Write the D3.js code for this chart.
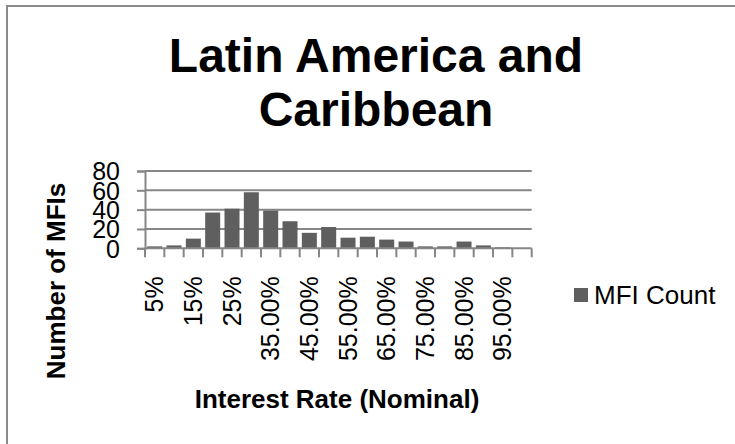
<!DOCTYPE html>
<html>
<head>
<meta charset="utf-8">
<script src="https://cdn.jsdelivr.net/npm/d3@7"></script>
<style>
  html, body { margin: 0; padding: 0; background: #fff; }
  svg { display: block; }
  text { font-family: "Liberation Sans", Arial, sans-serif; fill: #000; }
</style>
</head>
<body>
<svg id="chart" width="735" height="444"></svg>
<script>
// Interest-rate buckets (nominal) and number of MFIs in each
const categories = ["5%", "10%", "15%", "20%", "25%", "30%", "35.00%", "40.00%", "45.00%", "50.00%",
                    "55.00%", "60.00%", "65.00%", "70.00%", "75.00%", "80.00%", "85.00%", "90.00%", "95.00%", "100.00%"];
const mfiCount = [2, 3, 10, 37, 41, 58, 39, 28, 16, 22, 11, 12, 9, 7, 2, 2, 7, 3, 1, 0];
const yTicks = [0, 20, 40, 60, 80];
const seriesName = "MFI Count";
const titleLines = ["Latin America and", "Caribbean"];
const xTitle = "Interest Rate (Nominal)";
const yTitle = "Number of MFIs";

const svg = d3.select("#chart");
const gray = "#868686";
const barColor = "#5f5f5f";

// chart frame
svg.append("rect")
  .attr("x", 7).attr("y", 6)
  .attr("width", 760).attr("height", 460)
  .attr("fill", "#fff").attr("stroke", "#8a8a8a").attr("stroke-width", 2);

// title
svg.append("g").selectAll("text").data(titleLines).join("text")
  .attr("x", 376)
  .attr("y", (d, i) => 72 + i * 54)
  .attr("text-anchor", "middle")
  .attr("font-size", 48).attr("font-weight", "bold")
  .text(d => d);

const plot = { left: 145, right: 531.7, top: 171, bottom: 248.3 };

const x = d3.scaleBand()
  .domain(categories)
  .range([plot.left, plot.right])
  .paddingInner(0.224)
  .paddingOuter(0.112);

const y = d3.scaleLinear()
  .domain([0, 80])
  .range([plot.bottom, plot.top]);

// horizontal gridlines
svg.append("g").selectAll("line").data(yTicks.filter(v => v > 0)).join("line")
  .attr("x1", plot.left).attr("x2", plot.right)
  .attr("y1", d => y(d)).attr("y2", d => y(d))
  .attr("stroke", gray).attr("stroke-width", 2);

// bars
svg.append("g").selectAll("rect").data(categories).join("rect")
  .attr("x", d => x(d))
  .attr("width", x.bandwidth())
  .attr("y", (d, i) => y(mfiCount[i]))
  .attr("height", (d, i) => y(0) - y(mfiCount[i]))
  .attr("fill", barColor);

// y axis
const yAxis = svg.append("g")
  .attr("transform", `translate(${plot.left},0)`)
  .call(d3.axisLeft(y).tickValues(yTicks).tickSize(8).tickPadding(17).tickFormat(d3.format("d")));
yAxis.select(".domain").attr("stroke", gray).attr("stroke-width", 2);
yAxis.selectAll(".tick line").attr("stroke", gray).attr("stroke-width", 2);
yAxis.selectAll(".tick text")
  .attr("font-size", 25).attr("font-family", "Liberation Sans, Arial, sans-serif").attr("fill", "#000")
  .attr("dy", "0.35em");

// x axis: labels on every other bucket, tick marks on bucket boundaries
const xAxis = svg.append("g")
  .attr("transform", `translate(0,${plot.bottom})`)
  .call(d3.axisBottom(x).tickSize(0).tickFormat((d, i) => i % 2 === 0 ? d : ""));
xAxis.select(".domain").remove();
xAxis.selectAll(".tick text")
  .attr("font-size", 25).attr("font-family", "Liberation Sans, Arial, sans-serif").attr("fill", "#000")
  .attr("transform", "rotate(-90)")
  .attr("text-anchor", "end")
  .attr("x", -28).attr("y", 0).attr("dy", "0.35em");

const boundaries = d3.range(categories.length + 1).map(i => plot.left + i * x.step());
svg.append("line")
  .attr("x1", plot.left).attr("x2", plot.right)
  .attr("y1", plot.bottom).attr("y2", plot.bottom)
  .attr("stroke", gray).attr("stroke-width", 2);
svg.append("g").selectAll("line").data(boundaries).join("line")
  .attr("x1", d => d).attr("x2", d => d)
  .attr("y1", plot.bottom).attr("y2", plot.bottom + 9)
  .attr("stroke", gray).attr("stroke-width", 2);

// axis titles
svg.append("text")
  .attr("transform", "translate(65,281) rotate(-90)")
  .attr("text-anchor", "middle")
  .attr("font-size", 26).attr("font-weight", "bold")
  .text(yTitle);

svg.append("text")
  .attr("x", 337).attr("y", 408)
  .attr("text-anchor", "middle")
  .attr("font-size", 26).attr("font-weight", "bold")
  .text(xTitle);

// legend
const legend = svg.append("g").attr("transform", "translate(574,288)");
legend.append("rect").attr("width", 14).attr("height", 14).attr("fill", barColor);
legend.append("text")
  .attr("x", 20).attr("y", 16)
  .attr("font-size", 26)
  .text(seriesName);
</script>
</body>
</html>
